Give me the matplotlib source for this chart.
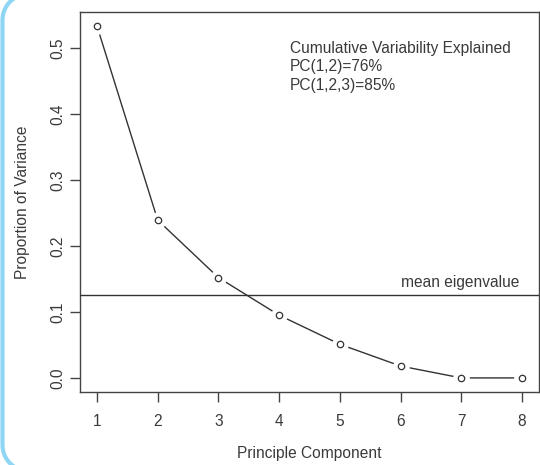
import numpy as np
import matplotlib
matplotlib.use("Agg")
import matplotlib.pyplot as plt
import matplotlib.transforms as mtransforms
from matplotlib.lines import Line2D

plt.rcParams['font.family'] = ['Liberation Sans', 'DejaVu Sans']

components = [1, 2, 3, 4, 5, 6, 7, 8]
prop_var = [0.533, 0.239, 0.152, 0.095, 0.051, 0.018, 0.0, 0.0]
mean_eigen = 0.125
y_ticks = [0.0, 0.1, 0.2, 0.3, 0.4, 0.5]
y_ticklabels = ["0.0", "0.1", "0.2", "0.3", "0.4", "0.5"]
annot_lines = ["Cumulative Variability Explained", "PC(1,2)=76%", "PC(1,2,3)=85%"]

W, H = 540, 465
fig = plt.figure(figsize=(W / 100, H / 100), dpi=100)
ax = fig.add_axes([80 / W, (H - 392) / H, (539 - 80) / W, (392 - 12) / H])

dark = '#333333'
txt = '#3a3a3a'
fs = 11.2

ax.plot(components, prop_var, color=dark, lw=1.0, zorder=2)
ax.plot(components, prop_var, linestyle='none', marker='o', ms=12, mfc='white',
        mec='none', zorder=3)
ax.plot(components, prop_var, linestyle='none', marker='o', ms=4.6, mfc='white',
        mec=dark, mew=0.9, zorder=4)
ax.axhline(mean_eigen, color=dark, lw=1.0, zorder=5)

ymax = max(prop_var)
pad = 0.04 * ymax
ax.set_ylim(-pad, ymax + pad)
ax.set_xlim(1 - 0.04 * 7, 8 + 0.04 * 7)

ax.set_xticks(components)
ax.set_xticklabels([str(c) for c in components])
ax.set_yticks(y_ticks)
ax.set_yticklabels(y_ticklabels, rotation=90, va='center')

for s in ax.spines.values():
    s.set_color('#444444')
    s.set_linewidth(1.0)
ax.tick_params(axis='both', colors='#444444', labelcolor=txt, length=7, width=1.0,
               labelsize=fs)
ax.tick_params(axis='x', pad=9)
ax.tick_params(axis='y', pad=3.5)

ax.set_xlabel("Principle Component", fontsize=fs, color=txt, labelpad=12)
ax.set_ylabel("Proportion of Variance", fontsize=fs, color=txt, labelpad=15)

for i, line in enumerate(annot_lines):
    fig.text(290 / W, 1 - (53 + 18.5 * i) / H, line, fontsize=fs, color=txt,
             ha='left', va='baseline')

blend = mtransforms.blended_transform_factory(fig.transFigure, ax.transData)
ax.text(519 / W, mean_eigen, "mean eigenvalue",
        transform=blend + mtransforms.ScaledTranslation(0, 8 / 100, fig.dpi_scale_trans),
        fontsize=fs, color=txt, ha='right', va='baseline')

# decorative screenshot frame on the left edge (pixel units -> figure fraction)
R = 26.0
x0 = 2.5
top_c = (x0 + R, -6 + R)          # measured from top
bot_c = (x0 + R, H + 6 - R)
t1 = np.linspace(np.pi / 2, np.pi, 20)
t2 = np.linspace(np.pi, 3 * np.pi / 2, 20)
xs = np.concatenate([top_c[0] + R * np.cos(t1) + 60 * 0, bot_c[0] + R * np.cos(t2)])
ys = np.concatenate([top_c[1] - R * np.sin(t1), bot_c[1] - R * np.sin(t2)])
xs = np.concatenate([[x0 + R + 40], xs, [x0 + R + 40]])
ys = np.concatenate([[-6], ys, [H + 6]])
fig.add_artist(Line2D(xs / W, 1 - ys / H, transform=fig.transFigure,
                      color='#8fd6f4', lw=3.0, zorder=0))

fig.savefig("out.png", dpi=100)
